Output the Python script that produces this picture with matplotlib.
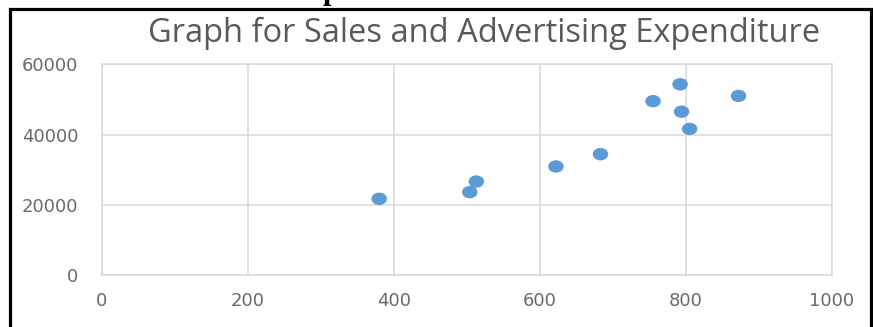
import matplotlib
matplotlib.use("Agg")
import matplotlib.pyplot as plt
from matplotlib.path import Path
from matplotlib.patches import Rectangle
from matplotlib.transforms import Affine2D

# Advertising expenditure (x) against sales (y)
advertising = [380, 504, 513, 622, 683, 755, 792, 794, 805, 872]
sales = [21700, 23600, 26600, 30900, 34400, 49500, 54300, 46500, 41600, 51000]

x_ticks = [0, 200, 400, 600, 800, 1000]
y_ticks = [0, 20000, 40000, 60000]
title = "Graph for Sales and Advertising Expenditure"

W, H = 873, 327
DPI = 100
fig = plt.figure(figsize=(W / DPI, H / DPI), dpi=DPI)
fig.patch.set_facecolor("white")

def fx(px):
    return px / W

def fy(py):
    return 1 - py / H

left, right, top, bottom = 101.7, 832.0, 64.3, 275.0
ax = fig.add_axes([fx(left), fy(bottom), fx(right - left), (bottom - top) / H])

grid_col = "#d9d9d9"
text_col = "#6a6a6a"

# slightly wide elliptical marker
ellipse = Path.unit_circle().transformed(Affine2D().scale(1.0, 0.8))
ax.scatter(advertising, sales, marker=ellipse, s=15.5 ** 2 * (72 / DPI) ** 2,
           color="#5b9bd5", edgecolors="none", zorder=3)

ax.set_xlim(0, 1000)
ax.set_ylim(0, 60000)
ax.set_xticks(x_ticks)
ax.set_yticks(y_ticks)
ax.set_xticklabels([str(v) for v in x_ticks])
ax.set_yticklabels([str(v) for v in y_ticks])
ax.grid(True, color=grid_col, linewidth=1.1, zorder=0)
ax.set_axisbelow(True)
for s in ax.spines.values():
    s.set_color(grid_col)
    s.set_linewidth(1.1)
ax.tick_params(axis="both", length=0, colors=text_col, labelsize=13)
ax.tick_params(axis="x", pad=12)
ax.tick_params(axis="y", pad=17)
for lab in ax.get_yticklabels():
    lab.set_verticalalignment("center_baseline")

fig.text(fx(484.5), fy(42), title, ha="center", va="baseline",
         fontsize=23.5, color="#595959", family="Open Sans")

# heading fragment above the frame
fig.text(fx(331), fy(-1.5), "p", ha="center", va="baseline", fontsize=22,
         fontweight="bold", family="Liberation Serif", color="black")

# outer frame
fig.patches.append(Rectangle((fx(10.3), fy(345)), fx(871.3 - 10.3), (345 - 9) / H,
                             transform=fig.transFigure, fill=False,
                             edgecolor="black", linewidth=2.3, zorder=5))

fig.savefig("out.png", dpi=DPI)
